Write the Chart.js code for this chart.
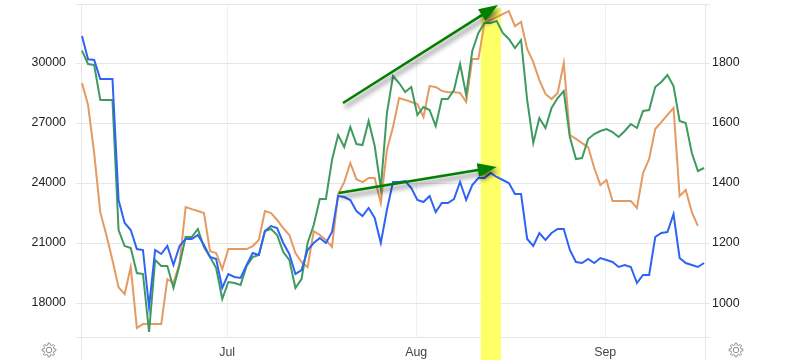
<!DOCTYPE html>
<html>
<head>
<meta charset="utf-8">
<title>Chart</title>
<script src="https://cdn.jsdelivr.net/npm/chart.js@4"></script>
<style>
  html, body { margin: 0; padding: 0; background: #fff; }
  canvas { display: block; }
</style>
</head>
<body>
<canvas id="chart" width="800" height="360"></canvas>
<script>
const monthTicks = [23.8, 54.8, 85.8]
const monthLabels = ["Jul", "Aug", "Sep"]
const leftTicks = [18000, 21000, 24000, 27000, 30000]
const rightTicks = [1000, 1200, 1400, 1600, 1800]

const blueValues = [31350, 30185, 30150, 29200, 29200, 29200, 23150, 22000, 21650, 20700, 20650, 17800, 20650, 20450, 20850, 19900, 20850, 21200, 21200, 21400, 20900, 20300, 20200, 18750, 19450, 19300, 19250, 19900, 20500, 20400, 21600, 21850, 21750, 21000, 20450, 19450, 19650, 20650, 21000, 21250, 21000, 21550, 23350, 23300, 23150, 22600, 22350, 22750, 22250, 21000, 22650, 24050, 24050, 24100, 23750, 23150, 23050, 23350, 22550, 23000, 23000, 23200, 24050, 23150, 23900, 24250, 24250, 24500, 24300, 24150, 24000, 23450, 23450, 21200, 20850, 21500, 21150, 21500, 21700, 21700, 20650, 20050, 20000, 20200, 20000, 20250, 20150, 20050, 19800, 19900, 19800, 19000, 19400, 19400, 21300, 21500, 21550, 22450, 20250, 20000, 19900, 19800, 20000]
const greenValues = [30615, 29950, 29900, 28150, 28150, 28150, 21650, 20850, 20750, 19500, 19450, 16550, 20150, 19850, 19850, 18750, 19900, 21300, 21300, 21700, 20800, 20300, 19750, 18200, 19050, 19000, 18900, 19850, 20300, 20400, 21600, 21700, 21400, 20550, 20150, 18750, 19200, 21000, 21900, 23200, 23200, 25150, 26400, 25800, 26800, 25950, 25900, 27100, 25850, 23750, 27500, 29350, 29000, 28550, 28800, 27400, 27800, 27650, 26850, 28200, 28200, 28650, 29950, 28400, 30600, 31500, 32000, 32000, 32100, 31500, 31200, 30750, 31150, 28150, 26000, 27250, 26750, 27750, 28250, 28600, 26300, 25200, 25250, 26200, 26450, 26600, 26700, 26550, 26300, 26600, 26950, 26750, 27600, 27650, 28800, 29050, 29400, 28850, 27100, 27000, 25500, 24600, 24750]
const orangeValues = [1733, 1660, 1500, 1303, 1227, 1143, 1053, 1030, 1120, 917, 930, 930, 930, 930, 1080, 1067, 1133, 1320, 1313, 1307, 1300, 1173, 1167, 1113, 1180, 1180, 1180, 1180, 1190, 1210, 1307, 1300, 1277, 1250, 1227, 1167, 1137, 1120, 1240, 1227, 1210, 1187, 1363, 1403, 1467, 1413, 1403, 1417, 1417, 1333, 1510, 1587, 1683, 1677, 1670, 1663, 1620, 1723, 1720, 1707, 1703, 1703, 1700, 1670, 1813, 1813, 1933, 1943, 1953, 1963, 1973, 1923, 1937, 1847, 1803, 1743, 1697, 1680, 1700, 1800, 1560, 1547, 1533, 1520, 1450, 1393, 1410, 1340, 1340, 1340, 1340, 1317, 1433, 1480, 1580, 1603, 1627, 1650, 1357, 1377, 1303, 1257, null]

// highlighted span and the two hand drawn arrows, in day index / left axis units
const bandDays = [65.4, 68.7]
const arrowStarts = [[42.8, 28000], [42.1, 23500]]
const arrowEnds = [[68.2, 32900], [68, 24800]]

const gridColor = "#e6e6e6"
const monthGridColor = "#eef0f2"

function toPoints(values) {
  return values.map((value, index) => ({ x: index, y: value }))
}

function drawArrow(ctx, x1, y1, x2, y2) {
  const angle = Math.atan2(y2 - y1, x2 - x1)
  const headLength = 19
  const headWidth = 7
  const baseX = x2 - headLength * Math.cos(angle)
  const baseY = y2 - headLength * Math.sin(angle)
  ctx.save()
  ctx.shadowColor = "rgba(0, 0, 0, 0.55)"
  ctx.shadowBlur = 5
  ctx.shadowOffsetX = 2
  ctx.shadowOffsetY = 4
  ctx.strokeStyle = "#008000"
  ctx.fillStyle = "#008000"
  ctx.lineWidth = 2.5
  ctx.beginPath()
  ctx.moveTo(x1, y1)
  ctx.lineTo(baseX, baseY)
  ctx.stroke()
  ctx.beginPath()
  ctx.moveTo(x2, y2)
  ctx.lineTo(baseX + headWidth * Math.sin(angle), baseY - headWidth * Math.cos(angle))
  ctx.lineTo(baseX - headWidth * Math.sin(angle), baseY + headWidth * Math.cos(angle))
  ctx.closePath()
  ctx.fill()
  ctx.restore()
}

function drawGear(ctx, cx, cy) {
  const teeth = 8
  ctx.save()
  ctx.strokeStyle = "#8a8a8a"
  ctx.lineWidth = 1
  ctx.beginPath()
  for (let i = 0; i < teeth * 4; i++) {
    const radius = i % 4 < 2 ? 7 : 5
    const angle = ((i - 0.5) / (teeth * 4)) * Math.PI * 2
    const px = cx + radius * Math.cos(angle)
    const py = cy + radius * Math.sin(angle)
    if (i === 0) ctx.moveTo(px, py)
    else ctx.lineTo(px, py)
  }
  ctx.closePath()
  ctx.stroke()
  ctx.beginPath()
  ctx.arc(cx, cy, 2.8, 0, Math.PI * 2)
  ctx.stroke()
  ctx.restore()
}

const bandPlugin = {
  id: "band",
  beforeDatasetsDraw(chart) {
    const { ctx, scales } = chart
    const x1 = scales.x.getPixelForValue(bandDays[0])
    const x2 = scales.x.getPixelForValue(bandDays[1])
    ctx.save()
    ctx.fillStyle = "#ffff66"
    ctx.fillRect(x1, 8, x2 - x1, chart.height - 8)
    ctx.restore()
  }
}

const overlayPlugin = {
  id: "overlay",
  afterDatasetsDraw(chart) {
    const { ctx, scales, chartArea } = chart
    arrowStarts.forEach((start, index) => {
      const end = arrowEnds[index]
      drawArrow(
        ctx,
        scales.x.getPixelForValue(start[0]),
        scales.yLeft.getPixelForValue(start[1]),
        scales.x.getPixelForValue(end[0]),
        scales.yLeft.getPixelForValue(end[1])
      )
    })
    // axis lines carry on under the plot down to the page edge
    ctx.save()
    ctx.strokeStyle = gridColor
    ctx.lineWidth = 1
    ctx.beginPath()
    ctx.moveTo(Math.round(chartArea.left) + 0.5, chartArea.bottom)
    ctx.lineTo(Math.round(chartArea.left) + 0.5, chart.height)
    ctx.moveTo(Math.round(chartArea.right) + 0.5, chartArea.bottom)
    ctx.lineTo(Math.round(chartArea.right) + 0.5, chart.height)
    ctx.stroke()
    ctx.restore()
    drawGear(ctx, 49, 350)
    drawGear(ctx, 736, 350)
  }
}

const tickFont = { family: "'Liberation Sans', Arial, sans-serif", size: 12.4 }

new Chart(document.getElementById("chart"), {
  type: "line",
  data: {
    datasets: [
      { label: "Blue", data: toPoints(blueValues), yAxisID: "yLeft", borderColor: "#2d64f5" },
      { label: "Green", data: toPoints(greenValues), yAxisID: "yLeft", borderColor: "#3f9a60" },
      { label: "Orange", data: toPoints(orangeValues), yAxisID: "yRight", borderColor: "#e59a62" }
    ]
  },
  plugins: [bandPlugin, overlayPlugin],
  options: {
    responsive: false,
    animation: false,
    layout: { padding: { top: 4.5 } },
    elements: {
      point: { radius: 0 },
      line: { borderWidth: 2, tension: 0 }
    },
    plugins: {
      legend: { display: false },
      tooltip: { enabled: false }
    },
    scales: {
      x: {
        type: "linear",
        min: -0.16,
        max: 102.16,
        afterBuildTicks(scale) {
          scale.ticks = monthTicks.map((value) => ({ value }))
        },
        afterFit(scale) {
          scale.height = 23
        },
        grid: { color: monthGridColor, tickLength: 0, drawTicks: false },
        border: { display: false },
        ticks: {
          autoSkip: false,
          maxRotation: 0,
          padding: 8,
          color: "#444",
          font: tickFont,
          callback: (value) => monthLabels[monthTicks.indexOf(value)]
        }
      },
      yLeft: {
        position: "left",
        min: 16300,
        max: 32925,
        afterBuildTicks(scale) {
          scale.ticks = [16300, ...leftTicks, 32925].map((value) => ({ value }))
        },
        afterFit(scale) {
          scale.width = 81
          scale.paddingTop = 0
          scale.paddingBottom = 0
        },
        grid: { color: gridColor, tickLength: 5 },
        border: { color: gridColor },
        ticks: {
          padding: 10,
          color: "#222",
          font: tickFont,
          callback: (value) => (leftTicks.includes(value) ? value : "")
        }
      },
      yRight: {
        position: "right",
        min: 887,
        max: 1995,
        afterBuildTicks(scale) {
          scale.ticks = [887, ...rightTicks, 1995].map((value) => ({ value }))
        },
        afterFit(scale) {
          scale.width = 95
          scale.paddingTop = 0
          scale.paddingBottom = 0
        },
        grid: { color: gridColor, tickLength: 5, drawOnChartArea: false },
        border: { color: gridColor },
        ticks: {
          padding: 2,
          color: "#222",
          font: tickFont,
          callback: (value) => (rightTicks.includes(value) ? value : "")
        }
      }
    }
  }
})
</script>
</body>
</html>
